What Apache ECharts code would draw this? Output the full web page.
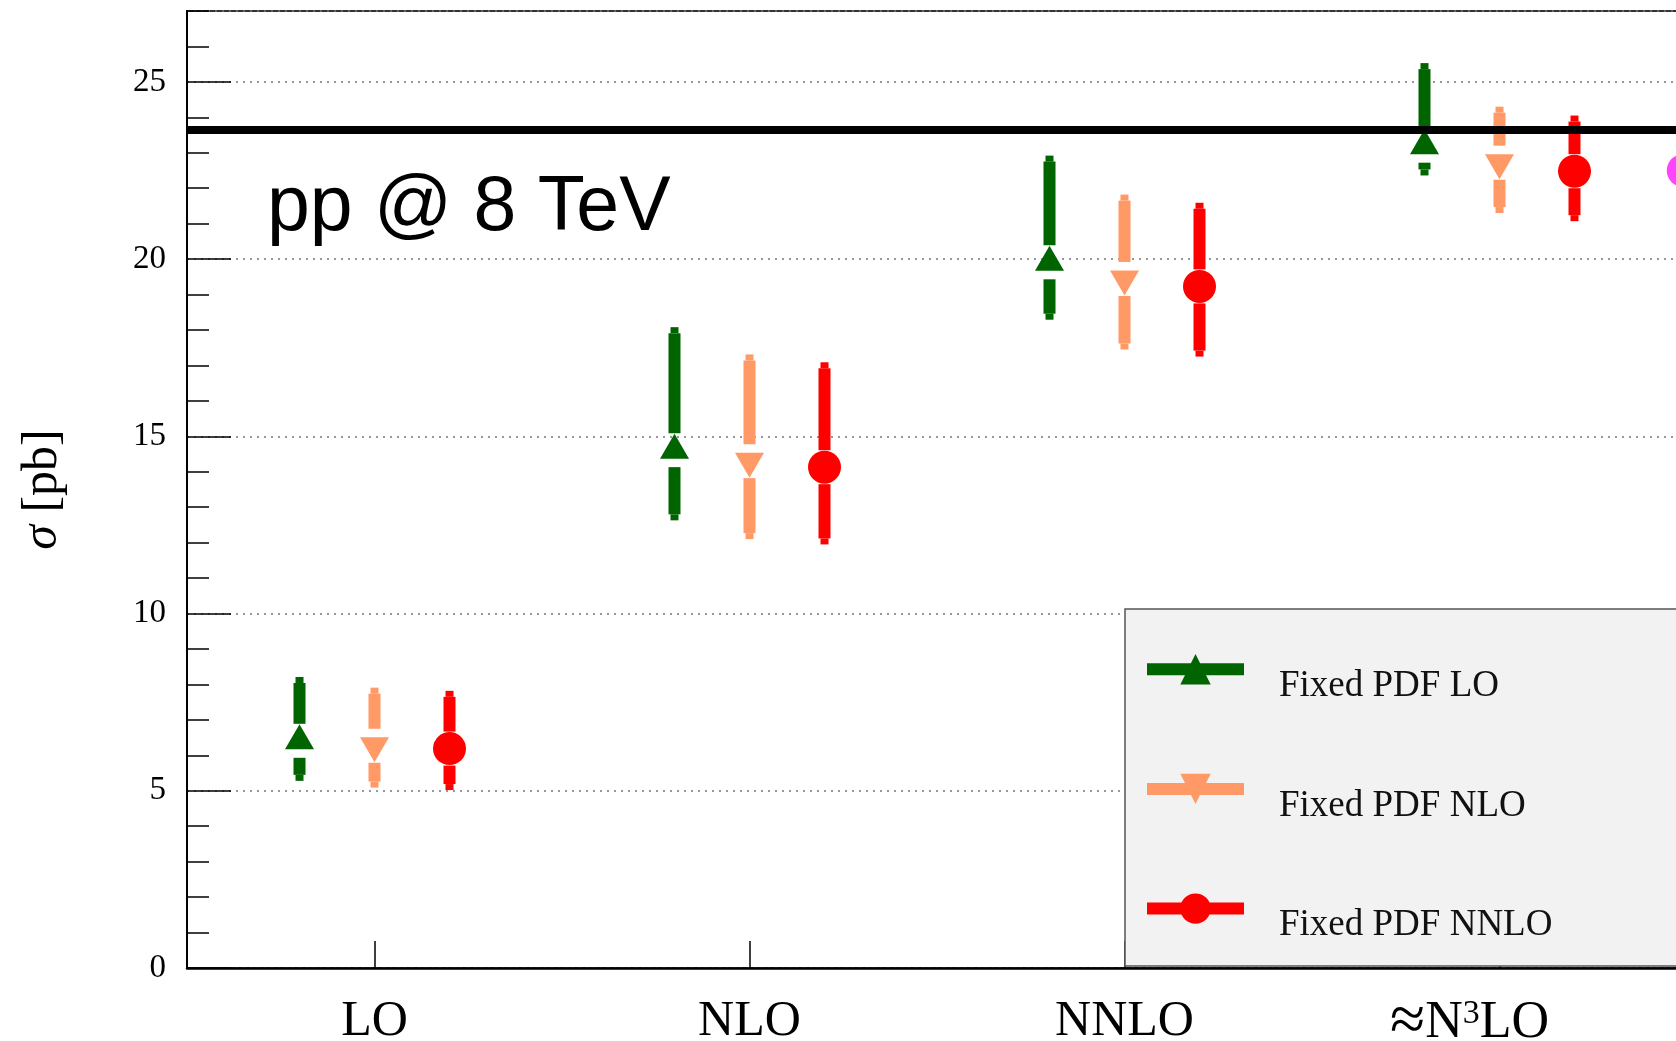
<!DOCTYPE html>
<html>
<head>
<meta charset="utf-8">
<style>
  html, body { margin: 0; padding: 0; background: #fff; }
  #main { width: 1676px; height: 1041px; }
</style>
<script src="https://cdn.jsdelivr.net/npm/echarts@6/dist/echarts.min.js"></script>
</head>
<body>
<div id="main"></div>
<script>
// 类目与数据
const categories = ['LO', 'NLO', 'NNLO', '≈N³LO']
const yTicks = [0, 5, 10, 15, 20, 25]

// Fixed PDF LO (绿色)
const loCentral = [6.41, 14.61, 19.91, 23.2]
const loLow = [5.28, 12.63, 18.29, 22.36]
const loHigh = [8.21, 18.08, 22.92, 25.53]

// Fixed PDF NLO (橙色)
const nloCentral = [6.27, 14.30, 19.44, 22.72]
const nloLow = [5.09, 12.10, 17.45, 21.30]
const nloHigh = [7.91, 17.31, 21.82, 24.30]

// Fixed PDF NNLO (红色)
const nnloCentral = [6.19, 14.13, 19.23, 22.48]
const nnloLow = [5.02, 11.95, 17.25, 21.07]
const nnloHigh = [7.82, 17.09, 21.59, 24.05]

// 右侧被截掉的品红点 (只在 ≈N³LO)
const extraCentral = [null, null, null, 22.5]

// 黑色水平参考线
const refValue = 23.65

const serif = "'Liberation Serif', 'DejaVu Serif', serif"

function pts(central, low, high, shift) {
  return central.map((v, i) => v == null ? null : [i + 0.5 + shift, v, low ? low[i] : v, high ? high[i] : v])
    .filter(v => v)
}

// 误差棒：中间留空，端头稍细
function renderBar(params, api) {
  const x = api.value(0)
  const pc = api.coord([x, api.value(1)])
  const pl = api.coord([x, api.value(2)])
  const ph = api.coord([x, api.value(3)])
  const color = api.visual('color')
  const w = 12, tw = 8, tl = 6, gap = 17
  const children = []
  const add = (x0, y0, ww, hh) => {
    if (hh > 0) children.push({ type: 'rect', shape: { x: x0, y: y0, width: ww, height: hh }, style: { fill: color } })
  }
  add(pc[0] - w / 2, ph[1] + tl, w, pc[1] - gap - ph[1] - tl)
  add(pc[0] - tw / 2, ph[1], tw, Math.min(tl, pc[1] - gap - ph[1]))
  add(pc[0] - w / 2, pc[1] + gap, w, pl[1] - tl - pc[1] - gap)
  add(pc[0] - tw / 2, pl[1] - tl, tw, Math.min(tl, pl[1] - pc[1] - gap))
  return { type: 'group', children }
}

const groups = [
  { name: 'Fixed PDF LO', color: '#006400', c: loCentral, l: loLow, h: loHigh, shift: -0.2,
    symbol: 'triangle', size: [29, 25], rotate: 0, offset: [0, -4] },
  { name: 'Fixed PDF NLO', color: '#ff9966', c: nloCentral, l: nloLow, h: nloHigh, shift: 0,
    symbol: 'triangle', size: [29, 25], rotate: 180, offset: [0, 4] },
  { name: 'Fixed PDF NNLO', color: '#ff0000', c: nnloCentral, l: nnloLow, h: nnloHigh, shift: 0.2,
    symbol: 'circle', size: 33, rotate: 0, offset: [0, 0] }
]

const series = []
groups.forEach(g => {
  series.push({
    name: g.name + ' err',
    type: 'custom',
    renderItem: renderBar,
    itemStyle: { color: g.color },
    encode: { x: 0, y: [1, 2, 3] },
    data: pts(g.c, g.l, g.h, g.shift),
    z: 2
  })
  series.push({
    name: g.name,
    type: 'line',
    data: pts(g.c, null, null, g.shift).map(p => [p[0], p[1]]),
    symbol: g.symbol,
    symbolSize: g.size,
    symbolRotate: g.rotate,
    symbolOffset: g.offset,
    showSymbol: true,
    lineStyle: { opacity: 0 },
    itemStyle: { color: g.color, opacity: 1 },
    z: 3
  })
})
series.push({
  name: 'extra',
  type: 'line',
  data: pts(extraCentral, null, null, 0.49).map(p => [p[0], p[1]]),
  symbol: 'circle',
  symbolSize: 33,
  lineStyle: { opacity: 0 },
  itemStyle: { color: '#ff44ff' },
  z: 3
})
// 参考线
series.push({
  name: 'ref',
  type: 'line',
  data: [],
  z: 10,
  markLine: {
    silent: true,
    symbol: ['none', 'none'],
    label: { show: false },
    lineStyle: { color: '#000', width: 8, type: 'solid' },
    data: [{ yAxis: refValue }]
  }
})

const myChart = echarts.init(document.getElementById('main'))
const option = {
  animation: false,
  title: {
    text: 'pp @ 8 TeV',
    left: 262,
    top: 165,
    textStyle: { fontFamily: "'Liberation Sans', Arial, sans-serif", fontSize: 77, fontWeight: 'normal', color: '#000' }
  },
  grid: {
    left: 187, top: 11, width: 1500, height: 957,
    outerBoundsMode: 'none',
    containLabel: false,
    show: true, borderColor: '#333', borderWidth: 2, backgroundColor: 'transparent'
  },
  legend: {
    data: groups.map(g => g.name),
    orient: 'vertical',
    left: 1125,
    top: 609,
    padding: [45, 400, 22, 16],
    itemGap: 69,
    itemWidth: 97,
    itemHeight: 38,
    backgroundColor: '#f2f2f2',
    borderColor: '#555',
    borderWidth: 1.5,
    borderRadius: 0,
    selectedMode: false,
    lineStyle: { width: 12, opacity: 1 },
    formatter: name => '{t|' + name + '}',
    textStyle: {
      fontFamily: serif, fontSize: 37, color: '#111',
      rich: { t: { fontFamily: serif, fontSize: 37, color: '#111', padding: [34, 0, 0, 30] } }
    }
  },
  xAxis: {
    type: 'value',
    min: 0,
    max: 4,
    axisLine: { lineStyle: { color: '#000', width: 2.5 } },
    axisTick: { inside: true, length: 27, customValues: categories.map((c, i) => i + 0.5), lineStyle: { color: '#000', width: 1.5 } },
    axisLabel: {
      customValues: categories.map((c, i) => i + 0.5),
      formatter: v => {
        const i = Math.floor(v)
        return i === 3 ? '{a|≈}{s|N}{u|3}{e|LO}' : categories[i]
      },
      fontFamily: serif, fontSize: 50, color: '#000', margin: 29,
      rich: {
        a: { fontFamily: serif, fontSize: 64, lineHeight: 52, color: '#000' },
        s: { fontFamily: serif, fontSize: 52, lineHeight: 52, color: '#000' },
        u: { fontFamily: serif, fontSize: 34, lineHeight: 30, verticalAlign: 'top', color: '#000' },
        e: { fontFamily: serif, fontSize: 52, lineHeight: 52, color: '#000', padding: [0, 60, 0, 0] }
      }
    },
    splitLine: { show: false }
  },
  yAxis: [
    {
      type: 'value',
      min: 0,
      max: 27,
      interval: 5,
      name: '{s|σ} [pb]',
      nameLocation: 'middle',
      nameRotate: 90,
      nameGap: 119,
      nameTextStyle: {
        fontFamily: serif, fontSize: 50, color: '#000',
        rich: { s: { fontFamily: serif, fontSize: 50, fontStyle: 'italic', color: '#000' } }
      },
      axisLine: { show: true, lineStyle: { color: '#000', width: 2 } },
      axisTick: { inside: true, length: 44, lineStyle: { color: '#000', width: 1.5 } },
      axisLabel: {
        showMaxLabel: false,
        fontFamily: serif, fontSize: 33, color: '#000', margin: 21,
        formatter: v => yTicks.includes(v) ? String(v) : ''
      },
      splitLine: { lineStyle: { color: '#777', width: 1.5, type: [2, 5] } }
    },
    {
      type: 'value',
      min: 0,
      max: 27,
      interval: 1,
      position: 'left',
      axisLine: { show: false },
      axisTick: { inside: true, length: 22, lineStyle: { color: '#000', width: 1.5 } },
      axisLabel: { show: false },
      splitLine: { show: false }
    }
  ],
  series: series
}
myChart.setOption(option)
</script>
</body>
</html>
